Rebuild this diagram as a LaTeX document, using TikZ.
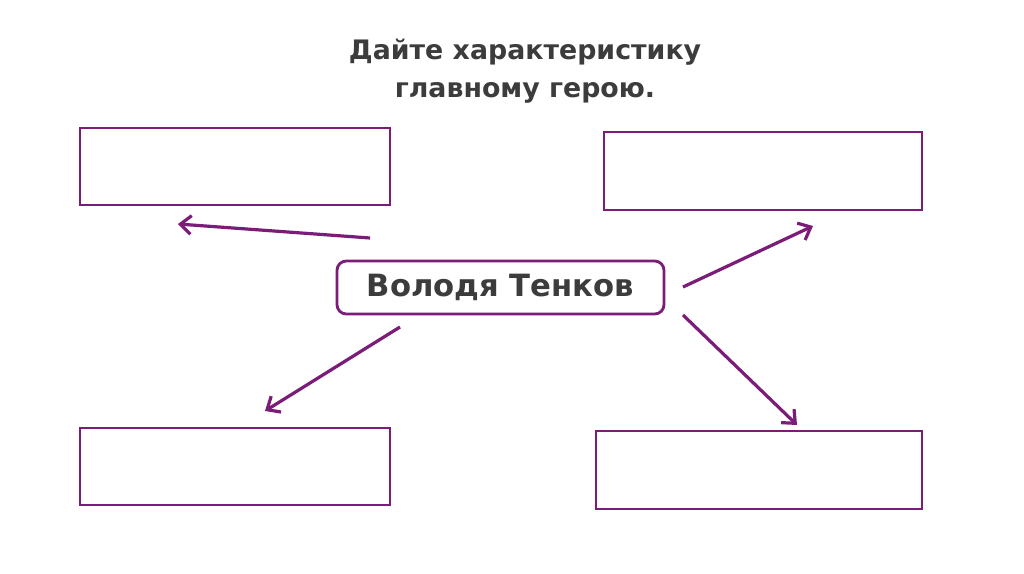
\documentclass[tikz,border=0pt]{standalone}
\usepackage{fontspec}
\setmainfont{DejaVu Sans}
\usetikzlibrary{arrows.meta}
\definecolor{vio}{HTML}{7A1C78}
\definecolor{txt}{HTML}{3C3C3C}
\tikzset{
  px/.style={x=0.75pt,y=-0.75pt},
  emptybox/.style={draw=vio,line width=1.9pt,fill=white,inner sep=0,minimum height=77*0.75pt},
  arr/.style={draw=vio,line width=2.4pt,-{Straight Barb[length=8pt,width=14pt,line width=2.4pt]}},
}
\begin{document}
\begin{tikzpicture}[px]
\useasboundingbox[fill=white] (0,0) rectangle (1024,574);
\node[text=txt,font=\bfseries\fontsize{20.1}{28.5}\selectfont,align=center] (title) at (525,71) {Дайте характеристику\\главному герою.};
\node[emptybox,minimum width=310*0.75pt] (tl) at (235,166.5) {};
\node[emptybox,minimum width=318*0.75pt,minimum height=78*0.75pt] (tr) at (763,171) {};
\node[emptybox,minimum width=310*0.75pt] (bl) at (235,466.5) {};
\node[emptybox,minimum width=326*0.75pt,minimum height=78*0.75pt] (br) at (759,470) {};
\node[draw=vio,line width=2.1pt,rounded corners=7pt,minimum width=327*0.75pt,minimum height=53*0.75pt,text=txt,font=\bfseries\fontsize{23}{28}\selectfont,inner sep=0] (c) at (500.5,287.5) {Володя Тенков};
\coordinate (a1s) at (370,238); \coordinate (a1e) at (178,224);
\coordinate (a2s) at (683,287); \coordinate (a2e) at (813,226);
\coordinate (a3s) at (400,327); \coordinate (a3e) at (265,411);
\coordinate (a4s) at (683,315); \coordinate (a4e) at (797,425);
\draw[arr] (a1s) -- (a1e);
\draw[arr] (a2s) -- (a2e);
\draw[arr] (a3s) -- (a3e);
\draw[arr] (a4s) -- (a4e);
\end{tikzpicture}
\end{document}
